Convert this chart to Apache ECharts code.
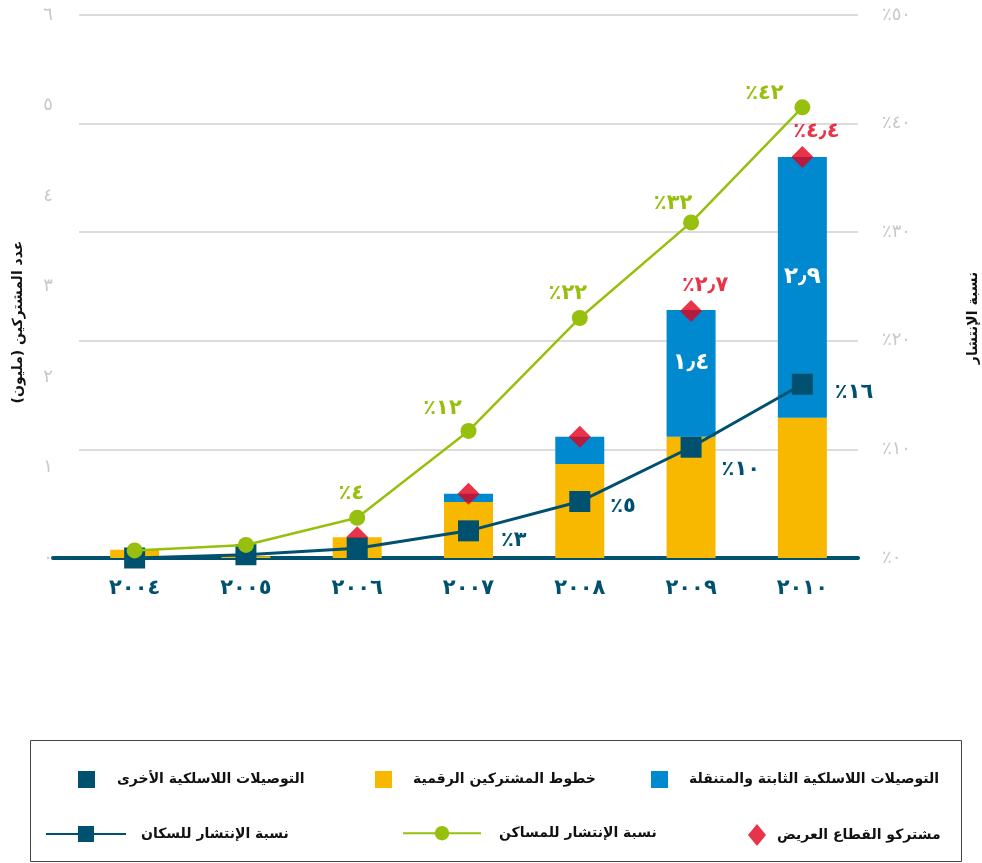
<!DOCTYPE html>
<html>
<head>
<meta charset="utf-8">
<script src="https://cdn.jsdelivr.net/npm/echarts@6/dist/echarts.min.js"></script>
<style>
  html, body { margin: 0; padding: 0; background: #fff; }
  #chart { width: 982px; height: 863px; }
</style>
</head>
<body>
<div id="chart"></div>
<script>
// السنوات وتسميات المحاور
const years = ['٢٠٠٤', '٢٠٠٥', '٢٠٠٦', '٢٠٠٧', '٢٠٠٨', '٢٠٠٩', '٢٠١٠']
const leftTicks = ['٠', '١', '٢', '٣', '٤', '٥', '٦']
const rightTicks = ['٪٠', '٪١٠', '٪٢٠', '٪٣٠', '٪٤٠', '٪٥٠']

// عدد المشتركين (مليون)
const dslLines = [0.09, 0.02, 0.23, 0.62, 1.04, 1.34, 1.55]
const fixedMobileWireless = [0, 0, 0, 0.09, 0.30, 1.40, 2.88]
const otherWireless = [0, 0, 0, 0, 0, 0, 0]
const broadbandTotal = [null, null, 0.23, 0.71, 1.34, 2.73, 4.43]

// نسبة الإنتشار (٪)
const householdPct = [0.7, 1.2, 3.7, 11.7, 22.1, 30.9, 41.5]
const populationPct = [0, 0.3, 0.9, 2.5, 5.2, 10.2, 16.0]

// نصوص التسميات
const householdLabels = ['', '', '٪٤', '٪١٢', '٪٢٢', '٪٣٢', '٪٤٢']
const populationLabels = ['', '', '', '٪٣', '٪٥', '٪١٠', '٪١٦']
const broadbandLabels = ['', '', '', '', '', '٪٢٫٧', '٪٤٫٤']
const wirelessLabels = ['', '', '', '', '', '١٫٤', '٢٫٩']

// إزاحة التسميات عن النقاط
const householdLabelShift = [[0, 0], [0, 0], [-6, 0], [-26, 2], [-12, 0], [-18, 6], [-38, 11]]
const populationLabelShift = [[0, 0], [0, 0], [0, 0], [6, 10], [4, 5], [4, 22], [6, 8]]

const names = {
  blue: 'التوصيلات اللاسلكية الثابتة والمتنقلة',
  yellow: 'خطوط المشتركين الرقمية',
  other: 'التوصيلات اللاسلكية الأخرى',
  broadband: 'مشتركو القطاع العريض',
  household: 'نسبة الإنتشار للمساكن',
  population: 'نسبة الإنتشار للسكان'
}

const FONT = "'DejaVu Sans', sans-serif"
const NAVY = '#00506f'
const GREEN = '#97bf0d'
const YELLOW = '#f9b800'
const BLUE = '#0089cf'
const RED = '#e2001a'
const GREY = '#c8c8c8'

const chart = echarts.init(document.getElementById('chart'))

const legendText = {
  fontFamily: FONT,
  fontSize: 14,
  fontWeight: 'bold',
  color: '#111'
}

function legendAt(name, left, top, w, h, gap, icon) {
  const l = {
    data: [name],
    left: left,
    top: top,
    padding: 0,
    itemWidth: w,
    itemHeight: h,
    selectedMode: false,
    textStyle: Object.assign({}, legendText, { padding: [0, 0, 0, gap] })
  }
  if (icon) l.icon = icon
  return l
}

function withShift(values, shifts) {
  return values.map((v, i) => ({
    value: v,
    label: { offset: shifts[i] }
  }))
}

const option = {
  animation: false,
  backgroundColor: '#fff',
  textStyle: { fontFamily: FONT },
  grid: { left: 79, right: 124, top: 15, bottom: 305, containLabel: false },
  legend: [
    legendAt(names.other, 78, 771, 17, 17, 17, 'rect'),
    legendAt(names.yellow, 375, 771, 17, 17, 16, 'rect'),
    legendAt(names.blue, 651, 771, 17, 17, 16, 'rect'),
    legendAt(names.population, 45, 826, 80, 20, 10),
    legendAt(names.household, 402, 826, 78, 18, 13),
    legendAt(names.broadband, 748, 824, 18, 22, 6)
  ],
  xAxis: {
    type: 'category',
    data: years,
    axisTick: { show: false },
    axisLine: { lineStyle: { color: NAVY, width: 4 } },
    axisLabel: {
      margin: 20,
      color: NAVY,
      fontSize: 21,
      fontWeight: 'bold',
      fontFamily: FONT
    }
  },
  yAxis: [
    {
      type: 'value',
      min: 0,
      max: 6,
      interval: 1,
      axisLine: { show: false },
      axisTick: { show: false },
      splitLine: { show: false },
      axisLabel: {
        margin: 26,
        color: GREY,
        fontSize: 18,
        fontFamily: FONT,
        formatter: v => leftTicks[Math.round(v)]
      }
    },
    {
      type: 'value',
      min: 0,
      max: 50,
      interval: 10,
      axisLine: { show: false },
      axisTick: { show: false },
      splitLine: { lineStyle: { color: '#dcdcdc', width: 2 } },
      axisLabel: {
        margin: 24,
        color: GREY,
        fontSize: 18,
        fontFamily: FONT,
        formatter: v => rightTicks[Math.round(v / 10)]
      }
    }
  ],
  series: [
    {
      name: names.yellow,
      type: 'bar',
      stack: 'subs',
      barWidth: 49,
      data: dslLines,
      itemStyle: { color: YELLOW },
      z: 2
    },
    {
      name: names.blue,
      type: 'bar',
      stack: 'subs',
      data: fixedMobileWireless,
      itemStyle: { color: BLUE },
      label: {
        show: true,
        position: 'inside',
        offset: [0, -10],
        color: '#fff',
        fontSize: 23,
        fontWeight: 'bold',
        fontFamily: FONT,
        formatter: p => wirelessLabels[p.dataIndex]
      },
      z: 2
    },
    {
      name: names.other,
      type: 'bar',
      stack: 'subs',
      data: otherWireless,
      itemStyle: { color: NAVY },
      z: 2
    },
    {
      name: names.broadband,
      type: 'scatter',
      data: broadbandTotal,
      symbol: 'diamond',
      symbolSize: [22, 22],
      itemStyle: { color: RED },
      label: {
        show: true,
        position: 'top',
        distance: 4,
        offset: [14, 0],
        color: RED,
        fontSize: 21,
        fontWeight: 'bold',
        fontFamily: FONT,
        formatter: p => broadbandLabels[p.dataIndex]
      },
      z: 3
    },
    {
      name: names.population,
      type: 'line',
      yAxisIndex: 1,
      data: withShift(populationPct, populationLabelShift),
      symbol: 'rect',
      symbolSize: 21,
      showAllSymbol: true,
      lineStyle: { color: NAVY, width: 3 },
      itemStyle: { color: NAVY },
      label: {
        show: true,
        position: 'right',
        distance: 16,
        color: NAVY,
        fontSize: 21,
        fontWeight: 'bold',
        fontFamily: FONT,
        formatter: p => populationLabels[p.dataIndex]
      },
      z: 4
    },
    {
      name: names.household,
      type: 'line',
      yAxisIndex: 1,
      data: withShift(householdPct, householdLabelShift),
      symbol: 'circle',
      symbolSize: 16,
      showAllSymbol: true,
      lineStyle: { color: GREEN, width: 2.5 },
      itemStyle: { color: GREEN },
      label: {
        show: true,
        position: 'top',
        distance: 6,
        color: GREEN,
        fontSize: 21,
        fontWeight: 'bold',
        fontFamily: FONT,
        formatter: p => householdLabels[p.dataIndex]
      },
      z: 5
    }
  ],
  graphic: [
    {
      type: 'rect',
      shape: { x: 30.5, y: 740.5, width: 931, height: 121 },
      style: { fill: 'none', stroke: '#444', lineWidth: 1 },
      silent: true
    },
    {
      type: 'line',
      shape: { x1: 53, y1: 558, x2: 80, y2: 558 },
      style: { stroke: NAVY, lineWidth: 4, lineCap: 'round' },
      silent: true
    },
    {
      type: 'text',
      x: 18,
      y: 322,
      rotation: Math.PI / 2,
      style: {
        text: 'عدد المشتركين (مليون)',
        fontFamily: FONT,
        fontSize: 14,
        fontWeight: 'bold',
        fill: '#111',
        align: 'center',
        verticalAlign: 'middle'
      },
      silent: true
    },
    {
      type: 'text',
      x: 973,
      y: 318,
      rotation: Math.PI / 2,
      style: {
        text: 'نسبة الإنتشار',
        fontFamily: FONT,
        fontSize: 14,
        fontWeight: 'bold',
        fill: '#111',
        align: 'center',
        verticalAlign: 'middle'
      },
      silent: true
    }
  ]
}

chart.setOption(option)
</script>
</body>
</html>
